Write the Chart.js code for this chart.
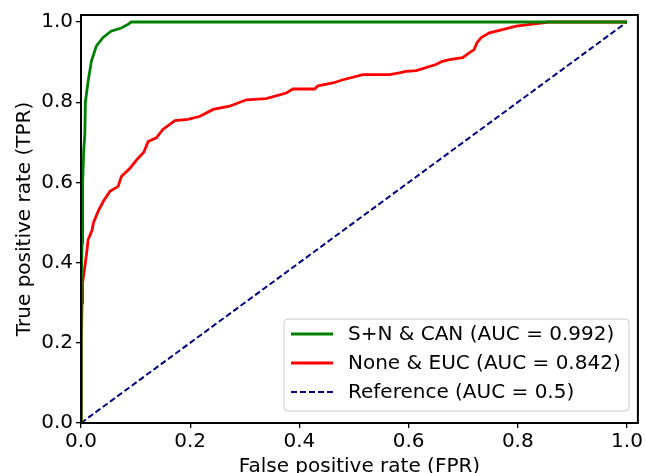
<!DOCTYPE html>
<html>
<head>
<meta charset="utf-8">
<script src="https://cdn.jsdelivr.net/npm/chart.js@4/dist/chart.umd.min.js"></script>
<style>
html,body{margin:0;padding:0;background:#fff;}
#wrap{width:645px;height:473px;position:relative;}
</style>
</head>
<body>
<div id="wrap"><canvas id="c" width="645" height="473"></canvas></div>
<script>
// ---- data ----
const seriesLabels = ['S+N & CAN (AUC = 0.992)', 'None & EUC (AUC = 0.842)', 'Reference (AUC = 0.5)'];
const xTicks = [0.0, 0.2, 0.4, 0.6, 0.8, 1.0];
const yTicks = [0.0, 0.2, 0.4, 0.6, 0.8, 1.0];
const xTitle = 'False positive rate (FPR)';
const yTitle = 'True positive rate (TPR)';

const greenFpr = [0, 0, 0.001, 0.002, 0.003, 0.005, 0.007, 0.008, 0.013, 0.019, 0.028, 0.040, 0.055, 0.074, 0.086, 0.092, 1.0];
const greenTpr = [0, 0.25, 0.35, 0.45, 0.60, 0.68, 0.72, 0.80, 0.852, 0.902, 0.940, 0.961, 0.977, 0.985, 0.994, 1.0, 1.0];

const redFpr = [0, 0, 0.001, 0.002, 0.003, 0.005, 0.007, 0.010, 0.013, 0.020, 0.023, 0.032, 0.041, 0.053, 0.068, 0.074, 0.090, 0.105, 0.115, 0.123, 0.138, 0.150, 0.172, 0.196, 0.218, 0.242, 0.272, 0.303, 0.339, 0.376, 0.388, 0.428, 0.434, 0.461, 0.480, 0.516, 0.565, 0.583, 0.595, 0.614, 0.650, 0.662, 0.675, 0.699, 0.711, 0.720, 0.725, 0.733, 0.748, 0.772, 0.797, 0.827, 0.857, 1.0];
const redTpr = [0, 0.10, 0.20, 0.30, 0.35, 0.37, 0.39, 0.42, 0.457, 0.48, 0.50, 0.53, 0.553, 0.578, 0.59, 0.615, 0.636, 0.661, 0.675, 0.702, 0.711, 0.732, 0.754, 0.757, 0.765, 0.782, 0.790, 0.806, 0.809, 0.823, 0.833, 0.833, 0.841, 0.848, 0.856, 0.869, 0.869, 0.873, 0.877, 0.879, 0.894, 0.902, 0.906, 0.911, 0.923, 0.931, 0.948, 0.961, 0.973, 0.981, 0.990, 0.995, 1.0, 1.0];

const refFpr = [0, 1];
const refTpr = [0, 1];

const zip = (xs, ys) => xs.map((x, i) => ({x: x, y: ys[i]}));
const FONT = 'DejaVu Sans';

const framePlugin = {
  id: 'frameAndLegend',
  afterDatasetsDraw(chart) {
    const ctx = chart.ctx, a = chart.chartArea;
    ctx.save();
    ctx.strokeStyle = '#000';
    ctx.lineWidth = 2;
    ctx.strokeRect(a.left, a.top, a.right - a.left, a.bottom - a.top);
    // legend
    const lx = 284, ly = 319, lw = 345, lh = 92, r = 4;
    ctx.beginPath();
    ctx.moveTo(lx + r, ly);
    ctx.arcTo(lx + lw, ly, lx + lw, ly + lh, r);
    ctx.arcTo(lx + lw, ly + lh, lx, ly + lh, r);
    ctx.arcTo(lx, ly + lh, lx, ly, r);
    ctx.arcTo(lx, ly, lx + lw, ly, r);
    ctx.closePath();
    ctx.fillStyle = 'rgba(255,255,255,0.8)';
    ctx.fill();
    ctx.strokeStyle = '#cccccc';
    ctx.lineWidth = 1;
    ctx.stroke();
    const rows = [334, 363, 392];
    chart.data.datasets.forEach((ds, i) => {
      ctx.beginPath();
      ctx.strokeStyle = ds.borderColor;
      ctx.lineWidth = ds.borderWidth;
      ctx.setLineDash(ds.borderDash || []);
      ctx.moveTo(291, rows[i]);
      ctx.lineTo(333, rows[i]);
      ctx.stroke();
      ctx.setLineDash([]);
      ctx.fillStyle = '#000';
      ctx.font = '20px "' + FONT + '"';
      ctx.textBaseline = 'middle';
      ctx.textAlign = 'left';
      ctx.fillText(ds.label, 348, rows[i] + 1);
    });
    ctx.restore();
  },
  afterDraw(chart) {
    const ctx = chart.ctx, a = chart.chartArea;
    ctx.save();
    ctx.fillStyle = '#000';
    ctx.font = '20px "' + FONT + '"';
    ctx.textAlign = 'center';
    ctx.textBaseline = 'alphabetic';
    ctx.fillText(xTitle, (a.left + a.right) / 2, 472);
    ctx.translate(30, (a.top + a.bottom) / 2);
    ctx.rotate(-Math.PI / 2);
    ctx.fillText(yTitle, 0, 0);
    ctx.restore();
  }
};

new Chart(document.getElementById('c'), {
  type: 'scatter',
  data: {
    datasets: [
      {label: seriesLabels[0], data: zip(greenFpr, greenTpr), showLine: true, borderColor: '#008000', backgroundColor: '#008000', borderWidth: 2.8, pointRadius: 0, tension: 0},
      {label: seriesLabels[1], data: zip(redFpr, redTpr), showLine: true, borderColor: '#ff0000', backgroundColor: '#ff0000', borderWidth: 2.8, pointRadius: 0, tension: 0},
      {label: seriesLabels[2], data: zip(refFpr, refTpr), showLine: true, borderColor: '#000080', backgroundColor: '#000080', borderWidth: 2, borderDash: [6, 3], pointRadius: 0, tension: 0}
    ]
  },
  options: {
    responsive: false,
    animation: false,
    events: [],
    layout: {padding: {left: 0, right: 6, top: 15, bottom: 0}},
    plugins: {legend: {display: false}, tooltip: {enabled: false}},
    scales: {
      x: {
        type: 'linear', min: 0, max: 1.02,
        afterBuildTicks: s => { s.ticks = xTicks.map(v => ({value: v})); },
        afterFit: s => { s.height = 50; },
        grid: {display: true, drawOnChartArea: false, drawTicks: true, tickLength: 5, color: '#000', lineWidth: 1.3},
        border: {display: false},
        ticks: {color: '#000', font: {family: FONT, size: 20}, padding: 2, maxRotation: 0, autoSkip: false, callback: v => Number(v).toFixed(1)}
      },
      y: {
        type: 'linear', min: 0, max: 1.0175,
        afterBuildTicks: s => { s.ticks = yTicks.map(v => ({value: v})); },
        afterFit: s => { s.width = 81; },
        grid: {display: true, drawOnChartArea: false, drawTicks: true, tickLength: 5, color: '#000', lineWidth: 1.3},
        border: {display: false},
        ticks: {color: '#000', font: {family: FONT, size: 20}, padding: 3, autoSkip: false, callback: v => Number(v).toFixed(1)}
      }
    }
  },
  plugins: [framePlugin]
});
</script>
</body>
</html>
